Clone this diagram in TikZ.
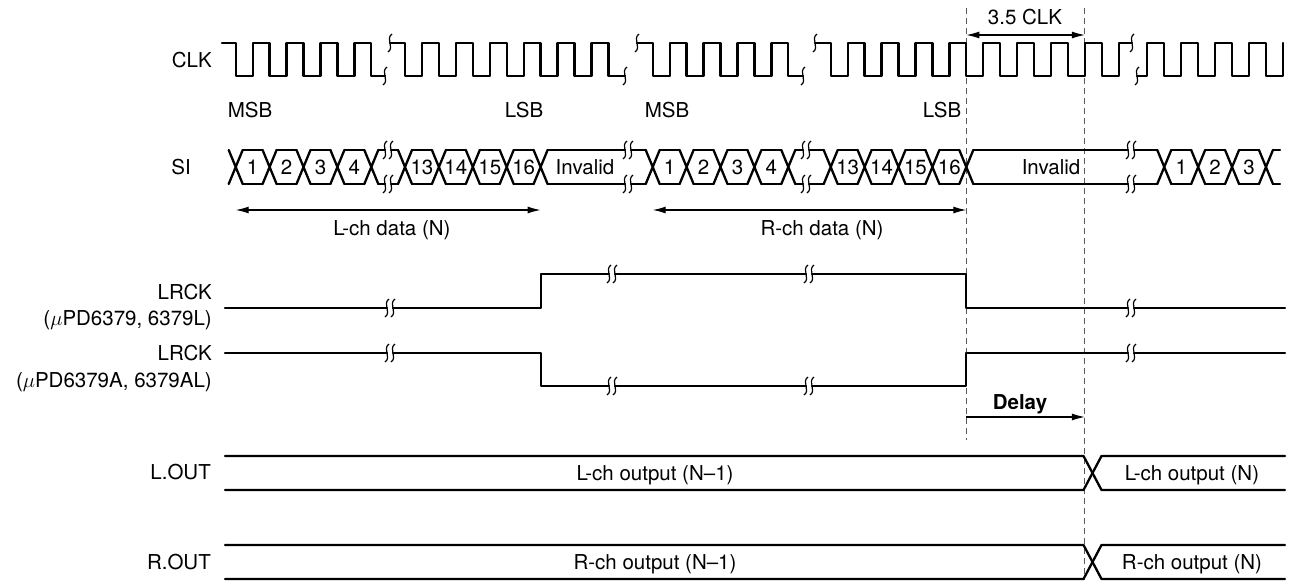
\documentclass[tikz,border=0pt]{standalone}
\usepackage{fontspec}
\setmainfont{TeX Gyre Heros}
\usetikzlibrary{arrows.meta}
\tikzset{
  sig/.style={line width=2.3pt, line cap=round, line join=round},
  brk/.style={line width=1.2pt},
  txt/.style={font=\fontsize{20.5}{22}\selectfont, inner sep=0pt},
  lab/.style={txt, anchor=base east},
  ctr/.style={txt, anchor=base},
  guide/.style={line width=0.9pt, black!65, dash pattern=on 6pt off 4pt},
  dimboth/.style={line width=1.2pt, {Latex[length=13pt,width=7pt]}-{Latex[length=13pt,width=7pt]}},
  dimright/.style={line width=1.2pt, -{Latex[length=13pt,width=7pt]}},
  squig/.pic={\draw[brk] (2,-9) .. controls (-5,-4) and (5,4) .. (-2,9);},
}
\begin{document}
\begin{tikzpicture}[x=1pt,y=-1pt]
\useasboundingbox (0,0) rectangle (1292,581);

% ---------------- guides ----------------
\coordinate (gA1) at (966.3,8);   \coordinate (gA2) at (966.3,440);
\coordinate (gB1) at (1084.9,8);  \coordinate (gB2) at (1084.9,580);
\draw[guide] (gA1) -- (gA2);
\draw[guide] (gB1) -- (gB2);

% ---------------- labels ----------------
\node[lab] (lclk) at (212,67.5) {CLK};
\node[lab] (lsi) at (191,174.5) {SI};
\node[lab] (llr1) at (212,299.5) {LRCK};
\node[lab] (llr1b) at (212,325.5) {($\mu$PD6379, 6379L)};
\node[lab] (llr2) at (212,360.5) {LRCK};
\node[lab] (llr2b) at (212,387.5) {($\mu$PD6379A, 6379AL)};
\node[lab] (llo) at (211,479.5) {L.OUT};
\node[lab] (lro) at (211,569.5) {R.OUT};

\node[ctr] (msb1) at (250,117.5) {MSB};
\node[ctr] (lsb1) at (524,117.5) {LSB};
\node[ctr] (msb2) at (667,117.5) {MSB};
\node[ctr] (lsb2) at (942,117.5) {LSB};

% ---------------- CLK ----------------
% segment 1
\draw[sig] (222,43) \foreach \k in {0,...,3} { -- ({235.7+33.9*\k},43) -- ({235.7+33.9*\k},76) -- ({252.65+33.9*\k},76) -- ({252.65+33.9*\k},43) } -- (371.3,43) -- (371.3,76) -- (385,76);
\pic at (385,76) {squig};
% segment 2
\pic at (390,43) {squig};
\draw[sig] (390,43) \foreach \k in {0,...,5} { -- ({405+33.9*\k},43) -- ({405+33.9*\k},76) -- ({421.95+33.9*\k},76) -- ({421.95+33.9*\k},43) } -- (608.4,43) -- (608.4,76) -- (625,76);
\pic at (625,76) {squig};
% segment 3
\pic at (637,43) {squig};
\draw[sig] (637,43) \foreach \k in {0,...,3} { -- ({652.7+33.9*\k},43) -- ({652.7+33.9*\k},76) -- ({669.65+33.9*\k},76) -- ({669.65+33.9*\k},43) } -- (788.3,43) -- (788.3,76) -- (803,76);
\pic at (803,76) {squig};
% segment 4
\pic at (815,43) {squig};
\draw[sig] (815,43) \foreach \k in {0,...,8} { -- ({830.7+33.9*\k},43) -- ({830.7+33.9*\k},76) -- ({847.65+33.9*\k},76) -- ({847.65+33.9*\k},43) } -- (1132,43);
\pic at (1132,43) {squig};
% segment 5
\pic at (1137,76) {squig};
\draw[sig] (1137,76) \foreach \k in {0,...,3} { -- ({1147.3+33.9*\k},76) -- ({1147.3+33.9*\k},43) -- ({1164.25+33.9*\k},43) -- ({1164.25+33.9*\k},76) } -- (1282.9,76) -- (1282.9,43);

% 3.5 CLK
\coordinate (ca) at (966.3,35); \coordinate (cb) at (1084.9,35);
\draw[dimboth] (ca) -- (cb);
\node[ctr] (t35) at (1025,24) {3.5 CLK};

% ---------------- SI ----------------
\def\st{150}\def\sb{184}
% crosses
\foreach \c in {235.7,269.6,303.5,337.4,371.3, 405,438.9,472.8,506.7,540.6, 652.7,686.6,720.5,754.4,788.3, 830.7,864.6,898.5,932.4,966.3, 1164.25,1198.15,1232.05,1265.95}
  \draw[sig] ({\c-7},\st) -- ({\c+7},\sb) ({\c-7},\sb) -- ({\c+7},\st);
% lines between crosses
\foreach \c in {235.7,269.6,303.5,337.4, 405,438.9,472.8,506.7, 652.7,686.6,720.5,754.4, 830.7,864.6,898.5,932.4, 1164.25,1198.15,1232.05}
  \draw[sig] ({\c+7},\st) -- ({\c+26.9},\st) ({\c+7},\sb) -- ({\c+26.9},\sb);
% segment ends / starts
\draw[sig] (378.3,\st) -- (385,\st) (378.3,\sb) -- (385,\sb);
\draw[sig] (391,\st) -- (398,\st) (391,\sb) -- (398,\sb);
\draw[sig] (547.6,\st) -- (625,\st) (547.6,\sb) -- (625,\sb);
\draw[sig] (631,\st) -- (645.7,\st) (631,\sb) -- (645.7,\sb);
\draw[sig] (795.3,\st) -- (803,\st) (795.3,\sb) -- (803,\sb);
\draw[sig] (809,\st) -- (823.7,\st) (809,\sb) -- (823.7,\sb);
\draw[sig] (973.3,\st) -- (1128,\st) (973.3,\sb) -- (1128,\sb);
\draw[sig] (1134,\st) -- (1157.25,\st) (1134,\sb) -- (1157.25,\sb);
\draw[sig] (1272.95,\st) -- (1280,\st) (1272.95,\sb) -- (1280,\sb);
% breaks
\foreach \x in {385,391,625,631,803,809,1128,1134} {
  \pic at (\x,\st) {squig};
  \pic at (\x,\sb) {squig};
}
% cell texts
\foreach \c/\t [count=\i] in {252.65/1,286.55/2,320.45/3,354.35/4}
  \node[ctr] (sa\i) at (\c,174.5) {\t};
\foreach \c/\t [count=\i] in {421.95/13,455.85/14,489.75/15,523.65/16}
  \node[ctr] (sb\i) at (\c,174.5) {\t};
\node[ctr] (sinv1) at (585,174.5) {Invalid};
\foreach \c/\t [count=\i] in {669.65/1,703.55/2,737.45/3,771.35/4}
  \node[ctr] (sc\i) at (\c,174.5) {\t};
\foreach \c/\t [count=\i] in {847.65/13,881.55/14,915.45/15,949.35/16}
  \node[ctr] (sd\i) at (\c,174.5) {\t};
\node[ctr] (sinv2) at (1051,174.5) {Invalid};
\foreach \c/\t [count=\i] in {1181.2/1,1215.1/2,1249/3}
  \node[ctr] (se\i) at (\c,174.5) {\t};

% data arrows
\coordinate (la) at (235.7,210); \coordinate (lb) at (540.6,210);
\draw[dimboth] (la) -- (lb);
\node[ctr] (ltxt) at (392,235) {L-ch data (N)};
\coordinate (ra) at (652.7,210); \coordinate (rb) at (966.3,210);
\draw[dimboth] (ra) -- (rb);
\node[ctr] (rtxt) at (822,235) {R-ch data (N)};

% ---------------- LRCK 1 ----------------
\draw[sig] (225,308) -- (387,308);
\draw[sig] (393,308) -- (541,308) -- (541,274) -- (609,274);
\draw[sig] (615,274) -- (806,274);
\draw[sig] (812,274) -- (966.3,274) -- (966.3,308) -- (1128,308);
\draw[sig] (1134,308) -- (1285,308);
\foreach \x/\y in {387/308,393/308,609/274,615/274,806/274,812/274,1128/308,1134/308}
  \pic at (\x,\y) {squig};

% ---------------- LRCK 2 ----------------
\draw[sig] (225,353) -- (387,353);
\draw[sig] (393,353) -- (541,353) -- (541,386) -- (609,386);
\draw[sig] (615,386) -- (806,386);
\draw[sig] (812,386) -- (966.3,386) -- (966.3,353) -- (1128,353);
\draw[sig] (1134,353) -- (1285,353);
\foreach \x/\y in {387/353,393/353,609/386,615/386,806/386,812/386,1128/353,1134/353}
  \pic at (\x,\y) {squig};

% Delay
\coordinate (da) at (966.3,417); \coordinate (db) at (1084.9,417);
\draw[dimright] (da) -- (db);
\node[ctr, font=\fontsize{20.5}{22}\selectfont\bfseries] (dtxt) at (1020,409) {Delay};

% ---------------- outputs ----------------
\draw[sig] (225,456) -- (1083.5,456) -- (1101.5,490) -- (1285,490);
\draw[sig] (225,490) -- (1083.5,490) -- (1101.5,456) -- (1285,456);
\node[ctr] (lo1) at (655,480) {L-ch output (N\textendash1)};
\node[ctr] (lo2) at (1192,480) {L-ch output (N)};

\draw[sig] (225,545) -- (1083.5,545) -- (1101.5,579) -- (1285,579);
\draw[sig] (225,579) -- (1083.5,579) -- (1101.5,545) -- (1285,545);
\node[ctr] (ro1) at (655,569.5) {R-ch output (N\textendash1)};
\node[ctr] (ro2) at (1192,569.5) {R-ch output (N)};
\end{tikzpicture}
\end{document}
